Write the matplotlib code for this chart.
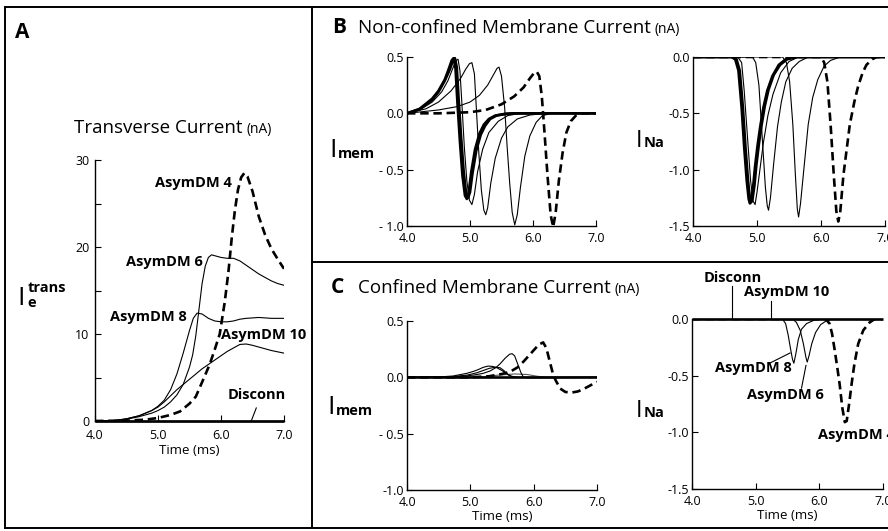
import matplotlib

matplotlib.use("Agg")
import matplotlib.pyplot as plt
from matplotlib.lines import Line2D

plt.rcParams["font.family"] = ["Open Sans", "DejaVu Sans"]

W, H = 888, 531
X_TICKS = [4.0, 5.0, 6.0, 7.0]
X_TICK_LABELS = ["4.0", "5.0", "6.0", "7.0"]

# ---- panel A: transverse current (nA) ----
A_T4 = [4.0, 4.5, 4.8, 5.0, 5.2, 5.35, 5.5, 5.6, 5.72, 5.82, 5.9, 5.98, 6.06, 6.12, 6.17,
        6.22, 6.27, 6.32, 6.37, 6.42, 6.5, 6.6, 6.7, 6.8, 6.9, 7.0]
A_I4 = [0, 0.05, 0.15, 0.35, 0.7, 1.1, 2.0, 2.8, 4.8, 6.5, 8.2, 10.0, 13.7, 17.3, 21.0,
        24.2, 26.6, 28.0, 28.5, 28.1, 26.4, 23.5, 21.4, 19.8, 18.6, 17.5]
A_T6 = [4.0, 4.3, 4.5, 4.7, 4.9, 5.0, 5.1, 5.2, 5.3, 5.4, 5.5, 5.55, 5.6, 5.65, 5.7, 5.75,
        5.8, 5.85, 5.9, 6.0, 6.1, 6.2, 6.3, 6.4, 6.5, 6.6, 6.7, 6.8, 6.9, 7.0]
A_I6 = [0, 0.05, 0.2, 0.5, 0.9, 1.2, 1.6, 2.2, 3.0, 4.2, 6.2, 7.6, 9.8, 12.8, 15.8, 17.8,
        18.8, 19.1, 19.0, 18.8, 18.7, 18.7, 18.4, 17.9, 17.4, 16.9, 16.5, 16.1, 15.8, 15.6]
A_T8 = [4.0, 4.3, 4.5, 4.7, 4.9, 5.0, 5.1, 5.2, 5.3, 5.4, 5.5, 5.56, 5.62, 5.7, 5.8, 5.9,
        6.0, 6.1, 6.2, 6.3, 6.4, 6.6, 6.8, 7.0]
A_I8 = [0, 0.05, 0.25, 0.6, 1.2, 1.7, 2.4, 3.6, 5.4, 7.8, 10.4, 11.8, 12.4, 12.3, 11.8, 11.5,
        11.4, 11.4, 11.5, 11.7, 11.8, 11.9, 11.8, 11.8]
A_T10 = [4.0, 4.3, 4.5, 4.7, 4.9, 5.0, 5.1, 5.2, 5.3, 5.4, 5.5, 5.6, 5.7, 5.8, 5.9, 6.0,
         6.1, 6.2, 6.3, 6.4, 6.5, 6.6, 6.7, 6.8, 6.9, 7.0]
A_I10 = [0, 0.05, 0.25, 0.6, 1.2, 1.6, 2.2, 2.9, 3.6, 4.2, 4.8, 5.4, 6.0, 6.5, 7.0, 7.5,
         8.0, 8.4, 8.8, 8.85, 8.7, 8.5, 8.3, 8.1, 7.95, 7.8]
A_TD = [4.0, 7.0]
A_ID = [0, 0]

# ---- panel B: non-confined membrane current ----
BM_T_THICK1 = [4.0, 4.2, 4.4, 4.5, 4.6, 4.66, 4.71, 4.74, 4.77, 4.8, 4.84, 4.88, 4.92, 4.95,
               4.98, 5.02, 5.08, 5.15, 5.22, 5.3, 5.4, 5.55, 5.7, 7.0]
BM_V_THICK1 = [0, 0.04, 0.13, 0.2, 0.3, 0.39, 0.47, 0.49, 0.4, 0.1, -0.25, -0.55, -0.73, -0.76,
               -0.7, -0.52, -0.32, -0.18, -0.1, -0.05, -0.02, -0.005, 0, 0]
BM_T_THICK2 = [4.0, 4.2, 4.4, 4.5, 4.6, 4.68, 4.73, 4.76, 4.79, 4.82, 4.86, 4.9, 4.94, 4.97,
               5.0, 5.04, 5.1, 5.17, 5.24, 5.32, 5.42, 5.57, 5.72, 7.0]
BM_V_THICK2 = [0, 0.035, 0.12, 0.19, 0.29, 0.39, 0.47, 0.49, 0.41, 0.12, -0.22, -0.52, -0.72, -0.75,
               -0.7, -0.53, -0.33, -0.19, -0.11, -0.05, -0.02, -0.005, 0, 0]
BM_T_THIN1 = [4.0, 4.2, 4.4, 4.55, 4.65, 4.72, 4.78, 4.81, 4.84, 4.87, 4.91, 4.95, 4.99, 5.03,
              5.07, 5.12, 5.2, 5.3, 5.45, 5.6, 5.8, 7.0]
BM_V_THIN1 = [0, 0.03, 0.1, 0.19, 0.29, 0.39, 0.47, 0.48, 0.38, 0.1, -0.3, -0.6, -0.77, -0.81,
              -0.72, -0.52, -0.32, -0.17, -0.07, -0.02, 0, 0]
BM_T_THIN2 = [4.0, 4.3, 4.5, 4.7, 4.85, 4.93, 4.99, 5.03, 5.07, 5.1, 5.14, 5.18, 5.22, 5.25,
              5.28, 5.33, 5.4, 5.5, 5.6, 5.75, 5.95, 6.2, 7.0]
BM_V_THIN2 = [0, 0.04, 0.1, 0.2, 0.31, 0.39, 0.44, 0.45, 0.35, 0.05, -0.35, -0.68, -0.86, -0.9,
              -0.84, -0.62, -0.4, -0.22, -0.12, -0.05, -0.015, 0, 0]
BM_T_THIN3 = [4.0, 4.5, 4.8, 5.0, 5.15, 5.28, 5.37, 5.43, 5.46, 5.5, 5.55, 5.59, 5.63, 5.67,
              5.71, 5.75, 5.8, 5.87, 5.95, 6.05, 6.15, 6.3, 7.0]
BM_V_THIN3 = [0, 0.03, 0.06, 0.1, 0.16, 0.25, 0.34, 0.4, 0.41, 0.33, 0.05, -0.3, -0.62, -0.88,
              -0.99, -0.9, -0.66, -0.38, -0.2, -0.08, -0.02, 0, 0]
BM_T_DASH = [4.0, 4.5, 5.0, 5.25, 5.5, 5.7, 5.85, 5.95, 6.02, 6.06, 6.1, 6.14, 6.18, 6.23,
             6.28, 6.32, 6.36, 6.41, 6.47, 6.53, 6.6, 6.68, 6.75, 7.0]
BM_V_DASH = [0, 0.0, 0.01, 0.03, 0.08, 0.15, 0.23, 0.31, 0.36, 0.37, 0.33, 0.15, -0.15, -0.55,
             -0.9, -1.01, -0.88, -0.6, -0.35, -0.17, -0.07, -0.02, 0, 0]

BN_T_THICK1 = [4.0, 4.6, 4.66, 4.71, 4.76, 4.8, 4.84, 4.87, 4.89, 4.91, 4.94, 4.97, 5.01, 5.05,
               5.1, 5.16, 5.24, 5.34, 5.45, 5.6, 7.0]
BN_V_THICK1 = [0, 0, -0.02, -0.12, -0.45, -0.8, -1.1, -1.26, -1.3, -1.27, -1.15, -0.97, -0.78,
               -0.62, -0.45, -0.3, -0.17, -0.07, -0.02, 0, 0]
BN_T_THICK2 = [4.0, 4.62, 4.68, 4.73, 4.78, 4.82, 4.86, 4.89, 4.91, 4.93, 4.96, 4.99, 5.03, 5.07,
               5.12, 5.18, 5.26, 5.36, 5.47, 5.62, 7.0]
BN_V_THICK2 = [0, 0, -0.02, -0.12, -0.45, -0.8, -1.1, -1.26, -1.29, -1.26, -1.14, -0.96, -0.77,
               -0.61, -0.44, -0.29, -0.16, -0.07, -0.02, 0, 0]
BN_T_THIN1 = [4.0, 4.7, 4.76, 4.8, 4.85, 4.9, 4.94, 4.97, 5.0, 5.05, 5.1, 5.17, 5.25, 5.37,
              5.5, 5.65, 7.0]
BN_V_THIN1 = [0, 0, -0.05, -0.3, -0.7, -1.1, -1.28, -1.31, -1.2, -0.98, -0.76, -0.52, -0.33,
              -0.14, -0.04, 0, 0]
BN_T_THIN2 = [4.0, 4.93, 4.98, 5.03, 5.08, 5.13, 5.16, 5.18, 5.21, 5.26, 5.32, 5.38, 5.45, 5.55,
              5.66, 5.8, 7.0]
BN_V_THIN2 = [0, 0, -0.05, -0.25, -0.7, -1.15, -1.32, -1.36, -1.25, -0.95, -0.62, -0.4, -0.22,
              -0.1, -0.04, 0, 0]
BN_T_THIN3 = [4.0, 5.4, 5.46, 5.51, 5.56, 5.6, 5.63, 5.65, 5.68, 5.74, 5.8, 5.87, 5.95, 6.05,
              6.15, 6.3, 7.0]
BN_V_THIN3 = [0, 0, -0.05, -0.22, -0.6, -1.05, -1.35, -1.42, -1.3, -0.95, -0.6, -0.36, -0.2,
              -0.08, -0.03, 0, 0]
BN_T_DASH = [4.0, 6.0, 6.05, 6.1, 6.15, 6.2, 6.24, 6.27, 6.3, 6.35, 6.41, 6.45, 6.52, 6.58,
             6.65, 6.71, 6.8, 6.87, 7.0]
BN_V_DASH = [0, 0, -0.05, -0.22, -0.6, -1.05, -1.37, -1.46, -1.38, -1.05, -0.78, -0.6, -0.4,
             -0.26, -0.14, -0.07, -0.02, 0, 0]

# ---- panel C: confined membrane current ----
CM_T_DASH = [4.0, 5.0, 5.3, 5.5, 5.63, 5.75, 5.84, 5.92, 6.0, 6.08, 6.15, 6.2, 6.25, 6.3,
             6.35, 6.42, 6.5, 6.6, 6.7, 6.8, 6.9, 7.0]
CM_V_DASH = [0, 0, 0.01, 0.03, 0.05, 0.09, 0.14, 0.19, 0.24, 0.29, 0.31, 0.26, 0.15, 0.04,
             -0.03, -0.1, -0.13, -0.135, -0.125, -0.1, -0.07, -0.04]
CM_T_6 = [4.0, 4.6, 4.9, 5.05, 5.2, 5.31, 5.4, 5.47, 5.55, 5.62, 5.66, 5.7, 5.76, 5.8, 5.84,
          5.9, 7.0]
CM_V_6 = [0, 0.002, 0.01, 0.02, 0.035, 0.056, 0.085, 0.12, 0.17, 0.205, 0.21, 0.19, 0.1, 0.04,
          0.0, -0.005, 0]
CM_T_8 = [4.0, 4.5, 4.73, 4.94, 5.05, 5.13, 5.2, 5.28, 5.35, 5.42, 5.5, 5.58, 5.65, 5.75, 7.0]
CM_V_8 = [0, 0.003, 0.012, 0.035, 0.053, 0.07, 0.088, 0.1, 0.097, 0.085, 0.06, 0.03, 0.01, 0, 0]
CM_T_8B = [4.0, 4.7, 4.95, 5.1, 5.2, 5.3, 5.4, 5.47, 5.53, 5.6, 5.68, 5.78, 7.0]
CM_V_8B = [0, 0.005, 0.02, 0.04, 0.06, 0.08, 0.09, 0.085, 0.06, 0.02, 0.0, 0, 0]
CM_T_10 = [4.0, 5.2, 5.45, 5.7, 5.9, 6.05, 6.2, 7.0]
CM_V_10 = [0, 0.005, 0.02, 0.03, 0.025, 0.01, 0, 0]
CM_T_D = [4.0, 7.0]
CM_V_D = [0, 0]

CN_T_D = [4.0, 7.0]
CN_V_D = [0, 0]
CN_T_8 = [4.0, 5.42, 5.47, 5.51, 5.55, 5.58, 5.6, 5.63, 5.67, 5.72, 5.8, 5.92, 6.05, 7.0]
CN_V_8 = [0, 0, -0.04, -0.14, -0.27, -0.36, -0.39, -0.31, -0.18, -0.09, -0.04, -0.01, 0, 0]
CN_T_6 = [4.0, 5.58, 5.64, 5.7, 5.75, 5.79, 5.81, 5.84, 5.88, 5.94, 6.02, 6.1, 6.2, 7.0]
CN_V_6 = [0, 0, -0.03, -0.1, -0.22, -0.34, -0.38, -0.32, -0.22, -0.12, -0.05, -0.02, 0, 0]
CN_T_4 = [4.0, 6.1, 6.16, 6.2, 6.24, 6.28, 6.32, 6.36, 6.4, 6.43, 6.47, 6.51, 6.55, 6.61,
          6.69, 6.79, 6.87, 7.0]
CN_V_4 = [0, 0, -0.04, -0.13, -0.27, -0.42, -0.58, -0.78, -0.91, -0.9, -0.74, -0.56, -0.4,
          -0.22, -0.1, -0.03, 0, 0]

THICK = dict(color="black", lw=1.9, solid_capstyle="butt")
THIN = dict(color="black", lw=0.8)
DASH = dict(color="black", lw=1.9, ls=(0, (3.2, 1.8)))


def box(left, top, right, bottom):
    return [left / W, 1 - bottom / H, (right - left) / W, (bottom - top) / H]


def style(ax, ylim, yticks, ylabels, xlabel):
    ax.set_xlim(4.0, 7.0)
    ax.set_ylim(*ylim)
    for side in ("top", "right"):
        ax.spines[side].set_visible(False)
    for side in ("left", "bottom"):
        ax.spines[side].set_linewidth(1.0)
    ax.set_xticks(X_TICKS, X_TICK_LABELS)
    ax.set_yticks(yticks, ylabels)
    ax.tick_params(direction="in", length=4, width=0.8, labelsize=9, pad=2.5)
    ax.tick_params(axis="x", pad=4)
    ax.patch.set_alpha(0)
    if xlabel:
        ax.set_xlabel("Time (ms)", fontsize=9.5, labelpad=1)


def fig_text(x, y, s, **kw):
    return fig.text(x / W, 1 - y / H, s, va="baseline", **kw)


def follow(t, s, dx=0, dy=0, **kw):
    renderer = fig.canvas.get_renderer()
    bb = t.get_window_extent(renderer)
    x = bb.x1 + dx
    y_base = t.get_position()[1] * H
    return fig.text(x / W, (y_base - dy) / H, s, va="baseline", **kw)


fig = plt.figure(figsize=(W / 100, H / 100), dpi=100)

# frame lines
frame = [((5, 888), (7, 7)), ((5, 888), (528, 528)), ((5, 5), (7, 528)),
         ((312, 312), (7, 528)), ((312, 888), (262, 262))]
for xs, ys in frame:
    fig.add_artist(Line2D([x / W for x in xs], [1 - y / H for y in ys],
                          color="black", lw=1.4, transform=fig.transFigure))

# panel A
ax_a = fig.add_axes(box(95, 160, 284, 421))
ax_a.plot(A_T10, A_I10, **THIN)
ax_a.plot(A_T8, A_I8, **THIN)
ax_a.plot(A_T6, A_I6, **THIN)
ax_a.plot(A_T4, A_I4, **DASH)
ax_a.plot(A_TD, A_ID, clip_on=False, **THICK)
style(ax_a, (0, 30), [0, 10, 20, 30], ["0", "10", "20", "30"], True)
ax_a.set_yticks([5, 15, 25], minor=True)
ax_a.tick_params(which="minor", direction="in", length=4, width=0.8)
ax_a.tick_params(axis="x", pad=6)
ax_a.tick_params(axis="y", pad=4)
lab = dict(fontsize=10.5, fontweight="bold", ha="center", va="center")
ax_a.text(5.56, 27.4, "AsymDM 4", **lab)
ax_a.text(5.11, 18.3, "AsymDM 6", **lab)
ax_a.text(4.84, 12.0, "AsymDM 8", **lab)
ax_a.text(6.67, 9.9, "AsymDM 10", **lab)
ax_a.text(6.57, 3.0, "Disconn", **lab)
ax_a.plot([6.56, 6.48], [1.5, 0], color="black", lw=0.8)

fig_text(15, 38, "A", fontsize=15, fontweight="bold")
t = fig_text(74, 133, "Transverse Current", fontsize=13.5)
follow(t, "(nA)", dx=4, fontsize=10)
t = fig_text(17, 305, "I", fontsize=19)
follow(t, "trans", dx=3, dy=-13, fontsize=10.5, fontweight="bold")
follow(t, "e", dx=3, dy=2, fontsize=10.5, fontweight="bold")

# panel B
ax_b1 = fig.add_axes(box(407, 57, 596, 226))
ax_b1.plot(BM_T_THIN3, BM_V_THIN3, **THIN)
ax_b1.plot(BM_T_THIN2, BM_V_THIN2, **THIN)
ax_b1.plot(BM_T_THIN1, BM_V_THIN1, **THIN)
ax_b1.plot(BM_T_DASH, BM_V_DASH, **DASH)
ax_b1.plot(BM_T_THICK2, BM_V_THICK2, **THICK)
ax_b1.plot(BM_T_THICK1, BM_V_THICK1, **THICK)
style(ax_b1, (-1.0, 0.5), [-1.0, -0.5, 0.0, 0.5], ["- 1.0", "- 0.5", "0.0", "0.5"], False)

ax_b2 = fig.add_axes(box(693, 57, 885, 226))
ax_b2.plot(BN_T_THIN3, BN_V_THIN3, **THIN)
ax_b2.plot(BN_T_THIN2, BN_V_THIN2, **THIN)
ax_b2.plot(BN_T_THIN1, BN_V_THIN1, **THIN)
ax_b2.plot(BN_T_DASH, BN_V_DASH, **DASH)
ax_b2.plot(BN_T_THICK2, BN_V_THICK2, **THICK)
ax_b2.plot(BN_T_THICK1, BN_V_THICK1, **THICK)
style(ax_b2, (-1.5, 0.0), [-1.5, -1.0, -0.5, 0.0], ["-1.5", "-1.0", "-0.5", "0.0"], False)

fig_text(332, 33, "B", fontsize=15, fontweight="bold")
t = fig_text(358, 33, "Non-confined Membrane Current", fontsize=13.5)
follow(t, "(nA)", dx=4, fontsize=10)
t = fig_text(329, 157, "I", fontsize=19)
follow(t, "mem", dx=1, dy=1, fontsize=10.5, fontweight="bold")
t = fig_text(636, 147, "I", fontsize=17)
follow(t, "Na", dx=1, dy=0, fontsize=10.5, fontweight="bold")

# panel C
ax_c1 = fig.add_axes(box(407, 321, 597, 490))
ax_c1.plot(CM_T_10, CM_V_10, color="#555555", lw=0.8)
ax_c1.plot(CM_T_8B, CM_V_8B, **THIN)
ax_c1.plot(CM_T_8, CM_V_8, **THIN)
ax_c1.plot(CM_T_6, CM_V_6, **THIN)
ax_c1.plot(CM_T_DASH, CM_V_DASH, **DASH)
ax_c1.plot(CM_T_D, CM_V_D, **THICK)
style(ax_c1, (-1.0, 0.5), [-1.0, -0.5, 0.0, 0.5], ["-1.0", "- 0.5", "0.0", "0.5"], True)

ax_c2 = fig.add_axes(box(692, 319, 883, 489))
ax_c2.plot(CN_T_6, CN_V_6, **THIN)
ax_c2.plot(CN_T_8, CN_V_8, **THIN)
ax_c2.plot(CN_T_4, CN_V_4, **DASH)
ax_c2.plot(CN_T_D, CN_V_D, clip_on=False, **THICK)
style(ax_c2, (-1.5, 0.0), [-1.5, -1.0, -0.5, 0.0], ["-1.5", "-1.0", "-0.5", "0.0"], True)
ax_c2.text(4.64, 0.36, "Disconn", clip_on=False, **lab)
ax_c2.text(5.49, 0.24, "AsymDM 10", clip_on=False, **lab)
ax_c2.text(4.96, -0.43, "AsymDM 8", **lab)
ax_c2.text(5.46, -0.67, "AsymDM 6", **lab)
ax_c2.text(6.59, -1.02, "AsymDM 4", clip_on=False, **lab)
ax_c2.plot([4.63, 4.63], [0.29, 0], color="black", lw=0.8, clip_on=False)
ax_c2.plot([5.24, 5.24], [0.16, 0], color="black", lw=0.8, clip_on=False)
ax_c2.plot([5.22, 5.54], [-0.39, -0.30], color="black", lw=0.8)
ax_c2.plot([5.72, 5.79], [-0.61, -0.41], color="black", lw=0.8)

fig_text(331, 293, "C", fontsize=15, fontweight="bold")
t = fig_text(358, 293, "Confined Membrane Current", fontsize=13.5)
follow(t, "(nA)", dx=4, fontsize=10)
t = fig_text(327, 414, "I", fontsize=19)
follow(t, "mem", dx=1, dy=1, fontsize=10.5, fontweight="bold")
t = fig_text(636, 417, "I", fontsize=17)
follow(t, "Na", dx=1, dy=0, fontsize=10.5, fontweight="bold")

fig.savefig("out.png", dpi=100)
